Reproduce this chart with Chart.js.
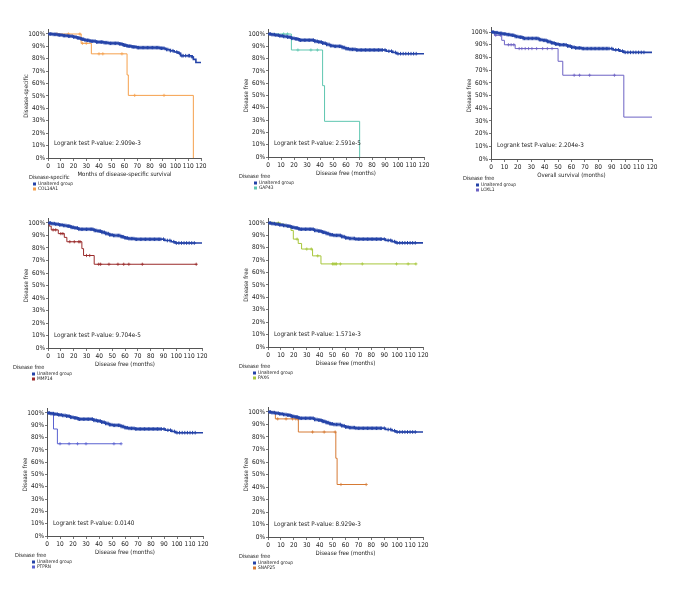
<!DOCTYPE html>
<html>
<head>
<meta charset="utf-8">
<script src="https://cdn.jsdelivr.net/npm/chart.js@4.4.0/dist/chart.umd.min.js"></script>
<style>
  html, body { margin: 0; padding: 0; background: #fff; }
  #page { position: relative; width: 680px; height: 600px; overflow: hidden; }
  canvas { position: absolute; }
</style>
</head>
<body>
<div id="page"></div>
<script>
// tick labels
const xTicks = [0, 10, 20, 30, 40, 50, 60, 70, 80, 90, 100, 110, 120];
const yTicks = [0, 10, 20, 30, 40, 50, 60, 70, 80, 90, 100];

// unaltered group, disease-specific (step times / survival %)
const dssT = [0, 4, 8, 12, 16, 20, 23, 26, 29, 33, 38, 44, 48, 56, 59, 62, 66, 70, 88, 92, 96, 99, 102, 104, 113, 114, 116, 120];
const dssS = [100, 99.7, 99.2, 98.7, 98.2, 97.6, 96.8, 95.8, 94.9, 94.2, 93.5, 93, 92.5, 92, 91, 90.2, 89.6, 89, 88.5, 87.5, 86.5, 85.5, 84.5, 82.5, 81.5, 79.5, 77, 77];
const dssCensor = [1, 2, 3, 4, 5, 6, 7, 8, 9, 10, 11, 12, 13, 14, 15, 16, 17, 18, 19, 20, 21, 22, 23, 24, 25, 26, 27, 28, 29, 30,
  31, 32, 33, 34, 35, 36, 37, 38, 39, 40, 41, 42, 43, 44, 45, 46, 47, 48, 49, 50, 51, 52, 53, 54, 55, 56, 57, 58, 59, 60,
  61, 62, 63, 64, 65, 66, 67, 68, 69, 70, 71, 72, 73, 74, 75, 76, 77, 78, 79, 80, 81, 82, 83, 84, 85, 86, 87, 88, 89, 90,
  91, 93, 94, 96, 98, 101, 103, 105, 106, 108, 110, 111, 113];

// unaltered group, disease free
const dfsT = [0, 3, 6, 9, 12, 15, 18, 21, 24, 36, 39, 42, 45, 48, 51, 57, 60, 63, 68, 91, 96, 99, 120];
const dfsS = [100, 99.5, 99, 98.5, 98, 97.5, 96.5, 96, 95, 94, 93.5, 92.5, 91.5, 90.5, 90, 89, 88, 87.5, 87, 86, 85, 84, 84];
const dfsCensor = [1, 2, 3, 4, 5, 6, 7, 8, 9, 10, 11, 12, 13, 14, 15, 16, 17, 18, 19, 20, 21, 22, 23, 24, 25, 26, 27, 28, 29, 30,
  31, 32, 33, 34, 35, 36, 37, 38, 39, 40, 41, 42, 43, 44, 45, 46, 47, 48, 49, 50, 51, 52, 53, 54, 55, 56, 57, 58, 59, 60,
  61, 62, 63, 64, 65, 66, 67, 68, 69, 70, 71, 72, 73, 74, 75, 76, 77, 78, 79, 80, 81, 82, 83, 84, 85, 86, 87, 88,
  90, 93, 95, 98, 100, 102, 104, 106, 108, 110, 112, 114];

// altered groups
const col14a1T = [0, 26, 34, 62, 63, 114];
const col14a1S = [100, 92.5, 84, 67, 50.5, 0];
const col14a1Censor = [7, 16, 25, 27, 30, 40, 43, 58, 68, 91];

const gap43T = [0, 18, 42, 43.5, 70.5];
const gap43S = [100, 87, 58, 29, 0];
const gap43Censor = [12, 15, 23, 33, 38];

const loxl1T = [0, 2.5, 8, 10, 18, 50, 53.5, 99, 120];
const loxl1S = [100, 97.5, 93.5, 90, 87, 77, 66, 33, 33];
const loxl1Censor = [3.5, 7, 13, 15, 17, 21, 23, 25.5, 28, 30.5, 34, 38.5, 42, 45.5, 62, 66, 73.5, 92];

const mmp14T = [0, 1, 2.5, 8, 12.7, 14.7, 26.4, 27.7, 36, 116];
const mmp14S = [100, 97.5, 94.5, 91.5, 88.5, 85, 79.5, 74, 67, 67];
const mmp14Censor = [4, 6, 10, 11.6, 17, 20.5, 24, 25, 30, 32.5, 39.5, 41, 47.5, 54.5, 59, 63, 73.5, 115.5];

const pax6T = [0, 10, 14, 17.8, 19.6, 23.4, 26, 34.5, 41, 115];
const pax6S = [100, 98.5, 97, 94, 87, 83.5, 79, 73.5, 67, 67];
const pax6Censor = [3, 8, 12, 22.5, 30, 33.5, 38.5, 50, 51, 52, 53, 56, 73, 99.5, 108.5, 114.5];

const ptprnT = [0, 5, 8, 57];
const ptprnS = [100, 87, 75, 75];
const ptprnCensor = [10, 17, 23.5, 30, 51.5, 57];

const snap25T = [0, 5.7, 23.5, 52.5, 53.5, 76];
const snap25S = [100, 94.5, 84, 63, 42, 42];
const snap25Censor = [1.5, 7.5, 14, 19, 21.5, 23, 34.5, 43.5, 52, 56.5, 76];

const pValues = ["2.909e-3", "2.591e-5", "2.204e-3", "9.704e-5", "1.571e-3", "0.0140", "8.929e-3"];

const FONT = '"Liberation Sans Narrow", "DejaVu Sans Condensed", "Open Sans", sans-serif';
const BLUE = "#2443a8";

// panel layout: plot left/right, y of 100%, y of 0%
const panels = [
  { L: 48, R: 201, T: 34, B: 158, base: [dssT, dssS, dssCensor], gene: "COL14A1", g: [col14a1T, col14a1S, col14a1Censor], color: "#f5a04c",
    yTitle: "Disease-specific", xTitle: "Months of disease-specific survival", legTitle: "Disease-specific", ltDx: -19, liDx: -15, pY: 12 },
  { L: 268, R: 424, T: 34, B: 157, base: [dfsT, dfsS, dfsCensor], gene: "GAP43", g: [gap43T, gap43S, gap43Censor], color: "#5ec6b0",
    yTitle: "Disease free", xTitle: "Disease free (months)", legTitle: "Disease free", ltDx: -29, liDx: -14, pY: 11 },
  { L: 491, R: 652, T: 32, B: 159, base: [dfsT, dfsS, dfsCensor], gene: "LOXL1", g: [loxl1T, loxl1S, loxl1Censor], color: "#6c62c4",
    yTitle: "Disease free", xTitle: "Overall survival (months)", legTitle: "Disease free", ltDx: -28, liDx: -15, pY: 11 },
  { L: 48, R: 202, T: 223, B: 348, base: [dfsT, dfsS, dfsCensor], gene: "MMP14", g: [mmp14T, mmp14S, mmp14Censor], color: "#9a2b2b",
    yTitle: "Disease free", xTitle: "Disease free (months)", legTitle: "Disease free", ltDx: -35, liDx: -16, pY: 10.5 },
  { L: 268, R: 423, T: 223, B: 347, base: [dfsT, dfsS, dfsCensor], gene: "PAX6", g: [pax6T, pax6S, pax6Censor], color: "#a8c73c",
    yTitle: "Disease free", xTitle: "Disease free (months)", legTitle: "Disease free", ltDx: -29, liDx: -15, pY: 10.5 },
  { L: 47, R: 203, T: 413, B: 536, base: [dfsT, dfsS, dfsCensor], gene: "PTPRN", g: [ptprnT, ptprnS, ptprnCensor], color: "#5a62d0",
    yTitle: "Disease free", xTitle: "Disease free (months)", legTitle: "Disease free", ltDx: -32, liDx: -15, pY: 10.5 },
  { L: 268, R: 423, T: 412, B: 537, base: [dfsT, dfsS, dfsCensor], gene: "SNAP25", g: [snap25T, snap25S, snap25Censor], color: "#d67a34",
    yTitle: "Disease free", xTitle: "Disease free (months)", legTitle: "Disease free", ltDx: -29, liDx: -15, pY: 10.5 }
];

function survAt(T, S, t) {
  let v = S[0];
  for (let i = 0; i < T.length; i++) if (T[i] <= t) v = S[i];
  return v;
}

function makeText(p, pv) {
  return {
    id: "panelText",
    afterDraw(chart) {
      const { ctx, chartArea: a, scales: { x, y } } = chart;
      ctx.save();
      ctx.fillStyle = "#222";
      // y title
      ctx.save();
      ctx.translate(a.left - 22, (y.getPixelForValue(0) + y.getPixelForValue(100)) / 2);
      ctx.rotate(-Math.PI / 2);
      ctx.font = "6px " + FONT;
      ctx.textAlign = "center";
      ctx.textBaseline = "middle";
      ctx.fillText(p.yTitle, 0, 0);
      ctx.restore();
      // x title
      ctx.font = "6px " + FONT;
      ctx.textAlign = "center";
      ctx.textBaseline = "middle";
      ctx.fillText(p.xTitle, (a.left + a.right) / 2, a.bottom + 16);
      // logrank
      ctx.font = "6.3px " + FONT;
      ctx.textAlign = "left";
      ctx.fillText("Logrank test P-value: " + pv, a.left + 6, y.getPixelForValue(p.pY));
      // legend
      ctx.font = "5.6px " + FONT;
      ctx.fillText(p.legTitle, a.left + p.ltDx, a.bottom + 20);
      ctx.font = "4.8px " + FONT;
      const items = [["Unaltered group", BLUE], [p.gene, p.color]];
      items.forEach((it, i) => {
        const yy = a.bottom + 26 + i * 5;
        ctx.fillStyle = it[1];
        ctx.fillRect(a.left + p.liDx, yy - 1.5, 3, 3);
        ctx.fillStyle = "#222";
        ctx.fillText(it[0], a.left + p.liDx + 5, yy);
      });
      ctx.restore();
    }
  };
}

const page = document.getElementById("page");

panels.forEach((p, idx) => {
  const cv = document.createElement("canvas");
  const left = p.L - 48, top = p.T - 10;
  const w = p.R - p.L + 48 + 10, h = p.B - p.T + 10 + 40;
  cv.width = w; cv.height = h;
  cv.style.left = left + "px"; cv.style.top = top + "px";
  cv.style.width = w + "px"; cv.style.height = h + "px";
  page.appendChild(cv);

  const H = (p.B - p.T) * 1.04;
  const padTop = (p.B - H) - top;

  const [bT, bS, bC] = p.base;
  const [gT, gS, gC] = p.g;

  const axisGrid = { display: true, drawOnChartArea: false, drawTicks: true, tickLength: 3, color: "#555", lineWidth: 0.8 };
  const axisBorder = { display: true, color: "#555", width: 1 };

  new Chart(cv, {
    type: "line",
    data: {
      datasets: [
        { data: bT.map((t, i) => ({ x: t, y: bS[i] })), stepped: "before", borderColor: BLUE, borderWidth: 1.6, pointRadius: 0, fill: false },
        { data: bC.map(t => ({ x: t, y: survAt(bT, bS, t) })), showLine: false, pointStyle: "cross", pointRadius: 1.8, borderColor: BLUE, borderWidth: 1 },
        { data: gT.map((t, i) => ({ x: t, y: gS[i] })), stepped: "before", borderColor: p.color, borderWidth: 1, pointRadius: 0, fill: false },
        { data: gC.map(t => ({ x: t, y: survAt(gT, gS, t) })), showLine: false, pointStyle: "cross", pointRadius: 1.6, borderColor: p.color, borderWidth: 0.8 }
      ]
    },
    options: {
      responsive: false,
      animation: false,
      events: [],
      layout: { padding: { left: 0, right: 10, top: padTop, bottom: 10 } },
      plugins: { legend: { display: false }, tooltip: { enabled: false } },
      scales: {
        x: {
          type: "linear", min: 0, max: 120,
          afterBuildTicks: s => { s.ticks = xTicks.map(v => ({ value: v })); },
          afterFit: s => { s.height = 30; },
          ticks: { font: { size: 6.5, family: FONT }, color: "#222", padding: 1, maxRotation: 0, autoSkip: false },
          grid: axisGrid, border: axisBorder
        },
        y: {
          min: 0, max: 104,
          afterBuildTicks: s => { s.ticks = yTicks.map(v => ({ value: v })); },
          afterFit: s => { s.width = 48; },
          ticks: { font: { size: 6.5, family: FONT }, color: "#222", padding: 1, callback: v => v + "%" },
          grid: Object.assign({}, axisGrid, { tickLength: 2 }), border: axisBorder
        }
      }
    },
    plugins: [makeText(p, pValues[idx])]
  });
});
</script>
</body>
</html>
